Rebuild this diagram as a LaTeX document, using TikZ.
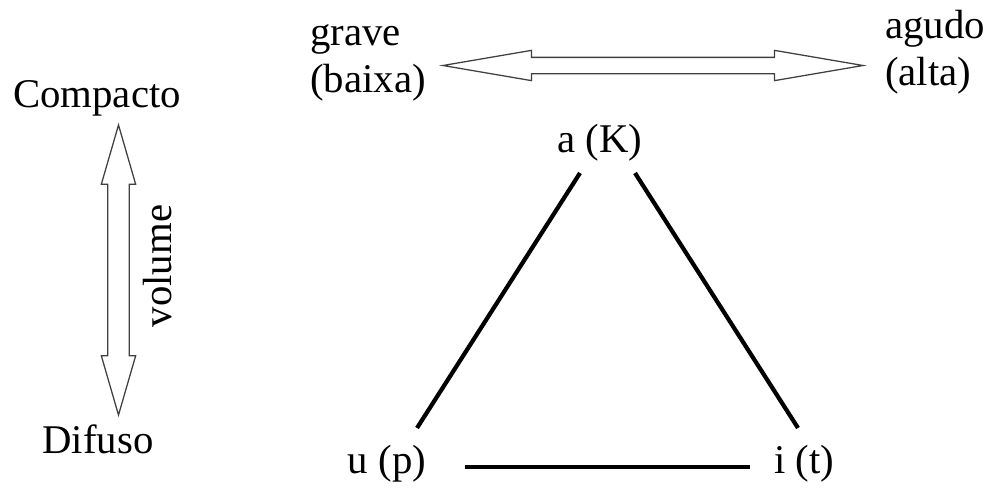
\documentclass[tikz,border=0pt]{standalone}
\usepackage{fontspec}
\setmainfont{Liberation Serif}
\usetikzlibrary{shapes.arrows,calc}

\begin{document}
\begin{tikzpicture}[
  x=0.025cm, y=-0.025cm,
  lbl/.style={inner sep=0pt, font=\fontsize{29}{33.4}\selectfont},
  hollow/.style={double arrow, draw=black!75, fill=white, line width=0.9pt, inner xsep=0pt, text height=0pt, text depth=0pt},
  edge/.style={black, line width=3pt}
]
\useasboundingbox (0,0) rectangle (992,488);
% axes labels
\node[lbl, anchor=base] (comp) at (97,107) {Compacto};
\node[lbl, anchor=base] (dif) at (98,453) {Difuso};
\node[lbl, anchor=base, rotate=90] (vol) at (171,266) {volume};
\node[lbl, anchor=base west, align=left] (grave) at (310,92) {grave\\(baixa)};
\node[lbl, anchor=base west, align=left] (agudo) at (885,85) {agudo\\(alta)};
% fat arrows
\node[hollow, minimum height=7.25cm, inner ysep=0.25cm, double arrow head extend=0.1625cm, double arrow tip angle=32.3, rotate=90] (vert) at (118.5,270) {};
\node[hollow, minimum height=10.5cm, inner ysep=0.1875cm, double arrow head extend=0.175cm, double arrow tip angle=19.4] (horiz) at (653,65.5) {};
% triangle
\node[lbl, anchor=base] (a) at (600,152) {a (K)};
\node[lbl, anchor=base] (u) at (387,473) {u (p)};
\node[lbl, anchor=base] (i) at (804,473) {i (t)};
\draw[edge] ([shift={(-20,21)}]a.base) -- ([shift={(30,-45)}]u.base);
\draw[edge] ([shift={(35,21)}]a.base) -- ([shift={(-6,-45)}]i.base);
\draw[edge] ([shift={(78,-6)}]u.base) -- ([shift={(-54,-6)}]i.base);
\end{tikzpicture}
\end{document}
